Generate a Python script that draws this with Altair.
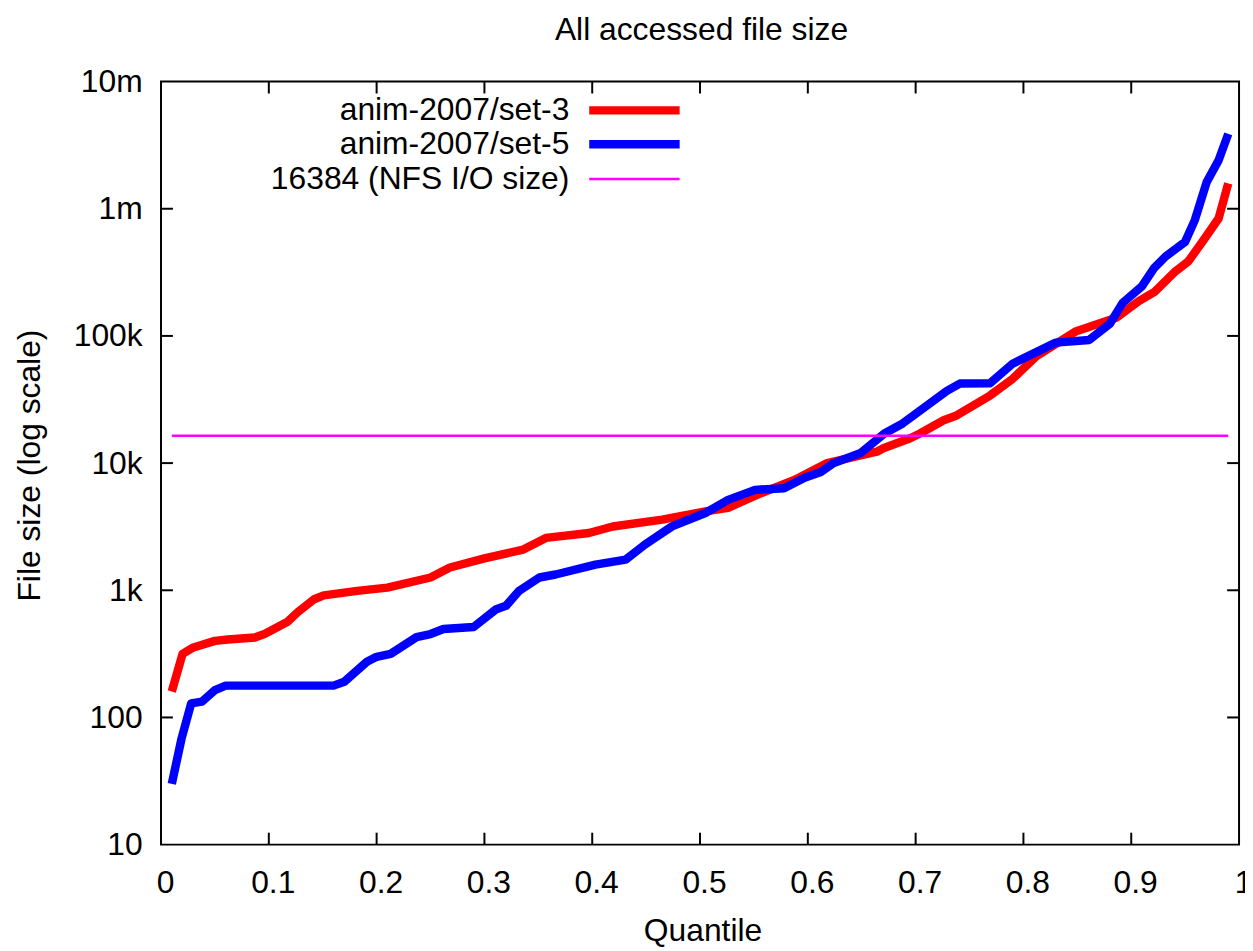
import altair as alt
import pandas as pd

# ---- data ----
q_set3 = [0.01, 0.02, 0.03, 0.05, 0.062, 0.087, 0.096, 0.117, 0.127, 0.142, 0.151,
          0.182, 0.21, 0.25, 0.268, 0.30, 0.336, 0.357, 0.397, 0.419, 0.465, 0.505,
          0.526, 0.557, 0.588, 0.618, 0.664, 0.67, 0.695, 0.704, 0.726, 0.738, 0.769,
          0.79, 0.812, 0.849, 0.886, 0.907, 0.922, 0.941, 0.953, 0.966, 0.981, 0.99]
v_set3 = [160, 316, 355, 400, 410, 425, 453, 562, 675, 850, 912,
          990, 1050, 1260, 1510, 1780, 2090, 2580, 2820, 3170, 3590, 4170,
          4450, 5820, 7400, 10000, 12300, 13100, 15700, 17100, 21700, 23700, 34000,
          46000, 69400, 109000, 139000, 188000, 223000, 322000, 386000, 550000, 838000, 1580000]

q_set5 = [0.01, 0.019, 0.028, 0.038, 0.05, 0.06, 0.16, 0.17, 0.191, 0.20, 0.213,
          0.237, 0.25, 0.262, 0.29, 0.311, 0.32, 0.332, 0.351, 0.366, 0.403, 0.431,
          0.449, 0.474, 0.505, 0.526, 0.551, 0.578, 0.597, 0.612, 0.624, 0.649, 0.671,
          0.688, 0.729, 0.741, 0.769, 0.79, 0.83, 0.861, 0.88, 0.892, 0.91, 0.921,
          0.932, 0.95, 0.959, 0.97, 0.981, 0.99]
v_set5 = [30, 68, 129, 133, 164, 178, 178, 191, 274, 300, 316,
          428, 453, 496, 514, 710, 754, 988, 1260, 1330, 1590, 1740,
          2290, 3180, 4050, 5140, 6160, 6350, 7660, 8520, 10000, 12000, 17100,
          20500, 37000, 42200, 42500, 60500, 88600, 93000, 124000, 182000, 246000, 340000,
          422000, 550000, 814000, 1620000, 2400000, 3880000]

nfs_size = 16384
nfs_q = [0.01, 0.99]

series_names = ["anim-2007/set-3", "anim-2007/set-5", "16384 (NFS I/O size)"]
series_colors = ["#ff0000", "#0000ff", "#ff00ff"]

x_ticks = [0, 0.1, 0.2, 0.3, 0.4, 0.5, 0.6, 0.7, 0.8, 0.9, 1]
y_ticks = [10, 100, 1000, 10000, 100000, 1000000, 10000000]
y_tick_labels = ["10", "100", "1k", "10k", "100k", "1m", "10m"]

title_text = "All accessed file size"
x_title = "Quantile"
y_title = "File size (log scale)"

# ---- layout / style ----
W, H = 1085, 768
FONT = "Liberation Sans"
FS = 32
TICK_LEN = 12
LW = 8.5

df3 = pd.DataFrame({"q": q_set3, "size": v_set3, "series": series_names[0]})
df5 = pd.DataFrame({"q": q_set5, "size": v_set5, "series": series_names[1]})
df_nfs = pd.DataFrame({"q": nfs_q, "size": [nfs_size] * len(nfs_q), "series": series_names[2]})

xs = alt.Scale(domain=[0, 1], nice=False, zero=False)
ys = alt.Scale(type="log", domain=[10, 10000000], nice=False)

pairs = sorted(zip(y_ticks, y_tick_labels), key=lambda p: -p[0])
expr = ""
for v, lab in pairs[:-1]:
    expr += f"datum.value >= {v * 0.99} ? '{lab}' : "
expr += f"'{pairs[-1][1]}'"

x_axis = alt.Axis(values=x_ticks, format="~g", title=x_title, domain=False, ticks=False,
                  tickSize=0, grid=False, labelPadding=23, labelOffset=4,
                  labelFontSize=FS, labelFont=FONT, labelColor="black",
                  titleFontSize=FS, titleFont=FONT, titleFontWeight="normal", titleColor="black",
                  titleBaseline="alphabetic", titleX=545, titleY=96, labelFlush=False,
                  labelOverlap=False)
y_axis = alt.Axis(values=y_ticks, labelExpr=expr, title=y_title, domain=False, ticks=False,
                  tickSize=0, grid=False, labelPadding=19,
                  labelFontSize=FS, labelFont=FONT, labelColor="black",
                  titleFontSize=FS, titleFont=FONT, titleFontWeight="normal", titleColor="black",
                  titleAngle=-90, titleAlign="center", titleBaseline="alphabetic",
                  titleX=-122, titleY=386, labelFlush=False, labelOverlap=False)

line3 = alt.Chart(df3).mark_line(color=series_colors[0], strokeWidth=LW, strokeCap="butt",
                                 strokeJoin="round").encode(
    x=alt.X("q:Q", scale=xs, axis=x_axis),
    y=alt.Y("size:Q", scale=ys, axis=y_axis),
)
line5 = alt.Chart(df5).mark_line(color=series_colors[1], strokeWidth=LW, strokeCap="butt",
                                 strokeJoin="round").encode(
    x=alt.X("q:Q", scale=xs),
    y=alt.Y("size:Q", scale=ys),
)
line_nfs = alt.Chart(df_nfs).mark_line(color=series_colors[2], strokeWidth=2.5).encode(
    x=alt.X("q:Q", scale=xs),
    y=alt.Y("size:Q", scale=ys),
)

# inward tick marks (gnuplot style) on all four sides
inner_x = pd.DataFrame({"t": x_ticks[1:-1]})
inner_y = pd.DataFrame({"t": y_ticks[1:-1]})
tick_style = dict(color="black", strokeWidth=2)
tb = alt.Chart(inner_x).mark_rule(**tick_style).encode(
    x=alt.X("t:Q", scale=xs), y=alt.value(H), y2=alt.value(H - TICK_LEN))
tt = alt.Chart(inner_x).mark_rule(**tick_style).encode(
    x=alt.X("t:Q", scale=xs), y=alt.value(0), y2=alt.value(TICK_LEN))
tl = alt.Chart(inner_y).mark_rule(**tick_style).encode(
    y=alt.Y("t:Q", scale=ys), x=alt.value(0), x2=alt.value(TICK_LEN))
tr = alt.Chart(inner_y).mark_rule(**tick_style).encode(
    y=alt.Y("t:Q", scale=ys), x=alt.value(W), x2=alt.value(W - TICK_LEN))

# gnuplot-style key: label on the left, line sample on the right
leg_df = pd.DataFrame({
    "name": series_names,
    "color": series_colors,
    "width": [LW, LW, 2.5],
    "ly": [29, 63, 98],
})
leg_text = alt.Chart(leg_df).mark_text(align="right", baseline="middle", font=FONT,
                                       fontSize=FS, color="black").encode(
    x=alt.value(411), y=alt.Y("ly:Q", scale=None), text="name:N")
leg_line = alt.Chart(leg_df).mark_rule(strokeCap="butt").encode(
    x=alt.value(431), x2=alt.value(522), y=alt.Y("ly:Q", scale=None),
    color=alt.Color("color:N", scale=None),
    strokeWidth=alt.StrokeWidth("width:Q", scale=None))

# chart title (drawn as text above the frame)
title_df = pd.DataFrame({"label": [title_text]})
title_mark = alt.Chart(title_df).mark_text(align="center", baseline="alphabetic", font=FONT,
                                           fontSize=FS, color="black").encode(
    x=alt.value(544), y=alt.value(-42), text="label:N")

chart = alt.layer(line3, line5, line_nfs, tb, tt, tl, tr, leg_text, leg_line, title_mark).properties(
    width=W, height=H,
    autosize=alt.AutoSizeParams(type="none"),
    padding={"left": 154, "top": 71, "right": 6, "bottom": 101},
).configure(
    background="white",
    view=alt.ViewConfig(stroke="black", strokeWidth=2),
)

chart.save("out.html", embed_options={"renderer": "svg", "actions": False})
